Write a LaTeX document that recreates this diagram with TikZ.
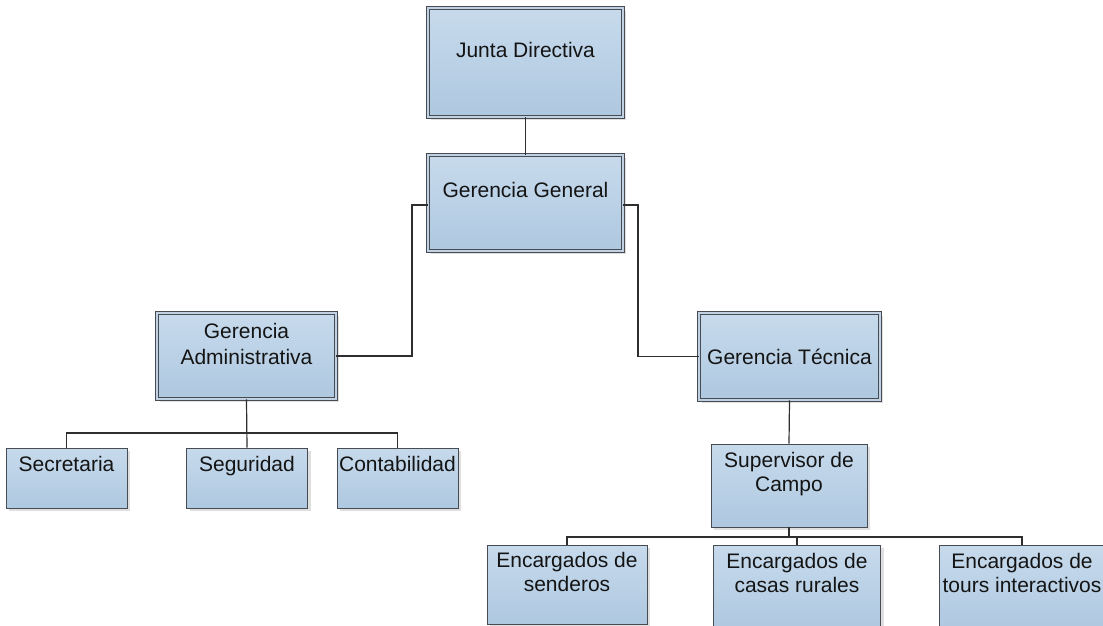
\documentclass[tikz,border=0pt]{standalone}
\usepackage{fontspec}
\setmainfont{Liberation Sans}
\usetikzlibrary{shadows,calc}
\definecolor{boxtop}{HTML}{C7DAEC}
\definecolor{boxbot}{HTML}{AEC8E0}
\definecolor{edge}{HTML}{474C52}
\definecolor{gapc}{HTML}{BFD1E2}
\definecolor{wire}{HTML}{2E2E2E}
\tikzset{
  box/.style={rectangle, draw=edge, line width=0.9pt, top color=boxtop, bottom color=boxbot,
    inner sep=0pt, drop shadow={shadow xshift=3pt, shadow yshift=-3pt, fill=black!18, opacity=0.7}},
  mainbox/.style={box, double=gapc, double distance=1.6pt, line width=0.9pt},
  txtm/.style={font=\fontsize{21}{24}\selectfont, align=center, text=black!92, inner sep=0pt,
    anchor=north},
  txt/.style={txtm, text height=15pt},
  wirel/.style={draw=wire, line width=1.2pt}
}
\begin{document}
\begin{tikzpicture}[x=1pt,y=-1pt]
\useasboundingbox (0,0) rectangle (1103,625);
% boxes
\node[mainbox, minimum width=195pt, minimum height=109pt] (jd) at (525.5,62.5) {};
\node[mainbox, minimum width=195pt, minimum height=96pt] (gg) at (525.5,203) {};
\node[mainbox, minimum width=179pt, minimum height=86pt] (ga) at (246.5,356) {};
\node[mainbox, minimum width=181pt, minimum height=87pt] (gt) at (789.5,356.5) {};
\node[box, minimum width=121pt, minimum height=60pt] (sec) at (66.5,478) {};
\node[box, minimum width=121pt, minimum height=60pt] (seg) at (247,478) {};
\node[box, minimum width=121pt, minimum height=60pt] (con) at (397.5,478) {};
\node[box, minimum width=156pt, minimum height=83pt] (sup) at (789,485.5) {};
\node[box, minimum width=160pt, minimum height=79pt] (sen) at (567,584.5) {};
\node[box, minimum width=167pt, minimum height=86pt] (cas) at (797,588) {};
\node[box, minimum width=166pt, minimum height=86pt] (tou) at (1022,588) {};
% texts
\node[txt] (tjd) at ($(jd.north)+(0,35)$) {Junta Directiva};
\node[txt] (tgg) at ($(gg.north)+(0,28)$) {Gerencia General};
\node[txtm, font=\fontsize{21}{26}\selectfont] (tga) at ($(ga.north)+(0,11)$) {Gerencia\\Administrativa};
\node[txt] (tgt) at ($(gt.north)+(0,37)$) {Gerencia Técnica};
\node[txt] (tsec) at ($(sec.north)+(0,9)$) {Secretaria};
\node[txt] (tseg) at ($(seg.north)+(0,9)$) {Seguridad};
\node[txt] (tcon) at ($(con.north)+(0,9)$) {Contabilidad};
\node[txtm] (tsup) at ($(sup.north)+(0,9)$) {Supervisor de\\Campo};
\node[txtm] (tsen) at ($(sen.north)+(0,8)$) {Encargados de\\senderos};
\node[txtm] (tcas) at ($(cas.north)+(0,9)$) {Encargados de\\casas rurales};
\node[txtm] (ttou) at ($(tou.north)+(0,9)$) {Encargados de\\tours interactivos};
% connectors
\coordinate (lk) at (412,205);
\coordinate (rk) at (638,205);
\coordinate (ab) at (247,433);
\coordinate (sb) at (789,537);
\draw[wirel] (jd.south) -- (gg.north);
\draw[wirel] (gg.west |- lk) -- (lk) -- (lk |- ga.east) -- (ga.east);
\draw[wirel] (gg.east |- rk) -- (rk) -- (rk |- gt.west) -- (gt.west);
\draw[wirel] (ga.south) -- (seg.north);
\draw[wirel] (sec.north) |- (ab) -| (con.north);
\draw[wirel] (gt.south) -- (sup.north);
\draw[wirel] (sup.south) -- (sb);
\draw[wirel] (sen.north) |- (sb) -| (tou.north);
\draw[wirel] (cas.north) -- (cas.north |- sb);
\end{tikzpicture}
\end{document}
